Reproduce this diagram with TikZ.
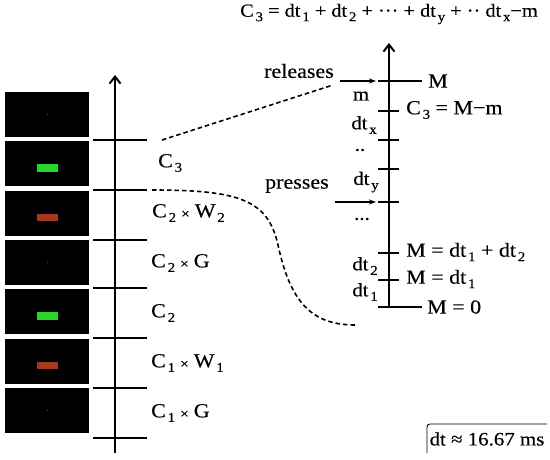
\documentclass[tikz,border=0pt]{standalone}
\usepackage{fontspec}
\setmainfont{Liberation Serif}[FakeStretch=1.1,FakeBold=0.3]
\usetikzlibrary{arrows.meta}
\definecolor{gbar}{RGB}{40,215,40}
\definecolor{rbar}{RGB}{165,55,35}
\def\nonecol{none}
\newcommand\lo[1]{\kern1.8pt\raisebox{-4.5pt}{\fontsize{13.5}{14}\selectfont#1}}
\newcommand\tms{\hspace{5pt}\raisebox{-1pt}{\fontsize{14}{14}\selectfont×}\hspace{5pt}}
\begin{document}
\begin{tikzpicture}[x=1pt,y=-1pt,
  lbl/.style={font=\fontsize{20}{24}\selectfont, inner sep=0pt},
  sm/.style={font=\fontsize{19}{24}\selectfont, inner sep=0pt},
  axis/.style={line width=2.6pt, -{Straight Barb[length=7pt,width=11pt,line width=2pt]}},
  tick/.style={line width=2pt},
  dashline/.style={dashed, dash pattern=on 4.5pt off 3pt, line width=1.6pt},
  arr/.style={line width=1.1pt, -{Stealth[length=7pt,width=5pt]}}]
\useasboundingbox (0,0) rectangle (550,460);
% panels
\foreach \i/\col in {0/none,1/gbar,2/rbar,3/none,4/gbar,5/rbar,6/none}{
  \fill[black] (5,{92+49.3*\i}) rectangle (89,{137+49.3*\i});
  \ifx\col\nonecol
    \fill[black!70] (47.5,{114.5+49.3*\i}) circle (0.6);
  \else
    \fill[\col] (37,{164.3+49.3*(\i-1)}) rectangle (58,{172+49.3*(\i-1)});
  \fi
}
% left axis
\coordinate (la0) at (115,453);
\coordinate (la1) at (115,75);
\draw[axis] (la0) -- (la1);
\foreach \y/\n in {140/t1,190/t2,240/t3,288/t4,338/t5,388/t6,438/t7}{
  \draw[tick] (93,\y) -- (147,\y) coordinate (\n);
}
\node[lbl, anchor=west] (c3) at (158,163) {C\lo{3}};
\node[lbl, anchor=west] (c2w2) at (152,213) {C\lo{2}\tms W\lo{2}};
\node[lbl, anchor=west] (c2g) at (151,263) {C\lo{2}\tms G};
\node[lbl, anchor=west] (c2) at (151,313) {C\lo{2}};
\node[lbl, anchor=west] (c1w1) at (151,363) {C\lo{1}\tms W\lo{1}};
\node[lbl, anchor=west] (c1g) at (151,413) {C\lo{1}\tms G};
% right axis
\coordinate (ra0) at (389,308);
\coordinate (ra1) at (389,43);
\draw[axis] (ra0) -- (ra1);
\draw[tick] (378,81) -- (422,81);
\draw[tick] (378,307) -- (422,307);
\foreach \y in {111,140,169,202,253,280}{
  \draw[tick] (378,\y) -- (399,\y);
}
\node[lbl, anchor=west] (M) at (428,81) {M};
\node[lbl, anchor=west] (c3mm) at (406,110) {C\lo{3} = M−m};
\node[lbl, anchor=west] (m12) at (406,252) {M = dt\lo{1} + dt\lo{2}};
\node[lbl, anchor=west] (m1) at (406,279) {M = dt\lo{1}};
\node[lbl, anchor=west] (m0) at (427,307) {M = 0};
\node[sm] (mm) at (361,96) {m};
\node[sm] (dtx) at (364,125) {dt\lo{x}};
\node[sm] (dd) at (360,150) {..};
\node[sm] (dty) at (366,182) {dt\lo{y}};
\node[sm] (ddd) at (362,219) {...};
\node[sm] (dt2) at (365,266) {dt\lo{2}};
\node[sm] (dt1) at (365,292) {dt\lo{1}};
\node[lbl] (rel) at (299,71) {releases};
\node[lbl] (pre) at (297,186) {presses};
\coordinate (relA) at (340,81);
\coordinate (relB) at (376,81);
\coordinate (preA) at (335,202);
\coordinate (preB) at (376,202);
\draw[arr] (relA) -- (relB);
\draw[arr] (preA) -- (preB);
% dashed connectors
\coordinate (d1a) at (162,140);
\coordinate (d1b) at (333,85);
\draw[dashline] (d1a) -- (d1b);
\coordinate (d2a) at (152,190);
\coordinate (d2m) at (278,245);
\coordinate (d2b) at (355,325);
\draw[dashline] (d2a) .. controls (240,190) and (268,200) .. (d2m)
  .. controls (290,300) and (310,325) .. (d2b);
% top formula
\node[font=\fontsize{18.5}{22}\selectfont, inner sep=0pt] (formula) at (389,14) {C\lo{3} = dt\lo{1} + dt\lo{2} + ··· + dt\lo{y} + ·· dt\lo{x}−m};
% dt box
\draw[line width=0.9pt, rounded corners=3pt] (427,453) -- (427,424) -- (547,424);
\node[font=\fontsize{19}{22}\selectfont, inner sep=0pt] (dtbox) at (487,439) {dt ≈ 16.67 ms};
\end{tikzpicture}
\end{document}
